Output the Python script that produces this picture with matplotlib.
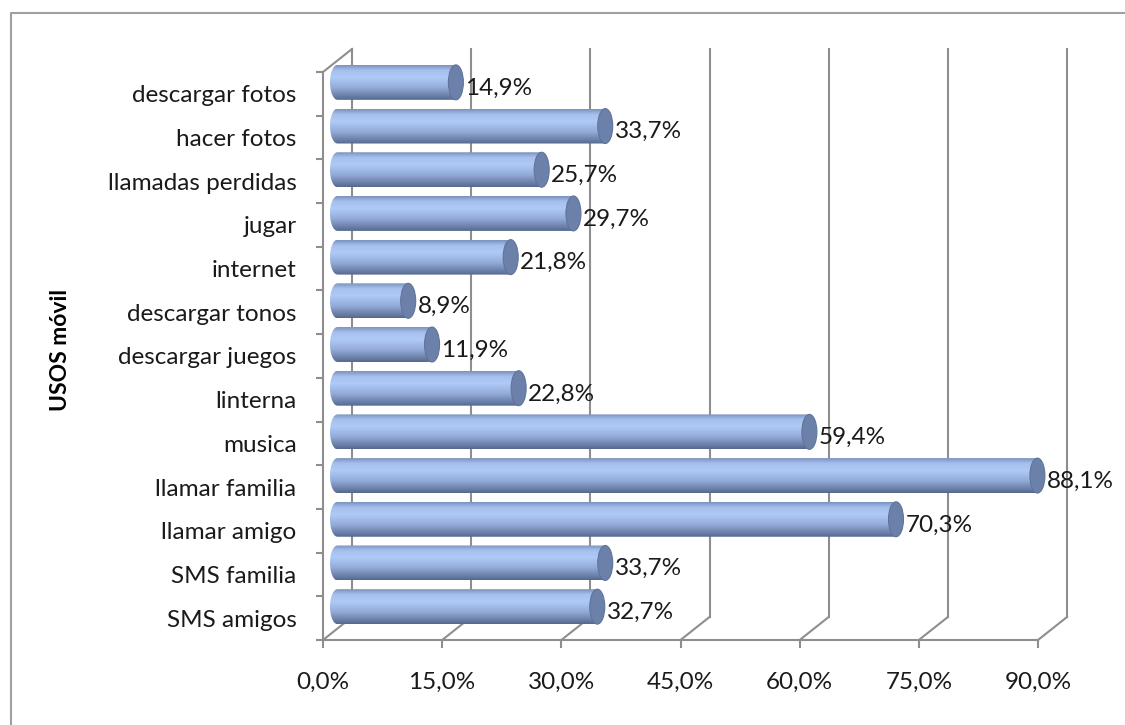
import matplotlib
matplotlib.use('Agg')
import matplotlib.pyplot as plt
import numpy as np
from matplotlib.patches import Ellipse, PathPatch
from matplotlib.path import Path
from matplotlib.colors import LinearSegmentedColormap
from matplotlib.lines import Line2D

categorias = ['SMS amigos', 'SMS familia', 'llamar amigo', 'llamar familia', 'musica',
              'linterna', 'descargar juegos', 'descargar tonos', 'internet', 'jugar',
              'llamadas perdidas', 'hacer fotos', 'descargar fotos']
valores = [32.7, 33.7, 70.3, 88.1, 59.4, 22.8, 11.9, 8.9, 21.8, 29.7, 25.7, 33.7, 14.9]
ticks_x = [0, 15, 30, 45, 60, 75, 90]

plt.rcParams['font.family'] = ['Lato', 'DejaVu Sans']

fig = plt.figure(figsize=(11.25, 7.25), dpi=100)
ax = fig.add_axes([323 / 1125, 85 / 725, 715 / 1125, 568 / 725])

# profundidad del efecto 3D (en unidades de datos)
dx = 29 / (715 / 90)
dy = 23 / (568 / 13)
gris = '#8e8e8e'
lw = 1.5

n = len(categorias)
y0, y1 = -0.5, n - 0.5

# paredes y rejilla
for t in ticks_x:
    ax.plot([t, t + dx], [y0, y0 + dy], color=gris, lw=lw, zorder=1, clip_on=False)
    ax.plot([t + dx, t + dx], [y0 + dy, y1 + dy], color=gris, lw=lw, zorder=1, clip_on=False)
ax.plot([0, 0], [y0, y1], color=gris, lw=lw, zorder=1, clip_on=False)
ax.plot([0, dx], [y1, y1 + dy], color=gris, lw=lw, zorder=1, clip_on=False)
ax.plot([0, 90], [y0, y0], color=gris, lw=lw, zorder=1, clip_on=False)

cmap = LinearSegmentedColormap.from_list('cil', [
    (0.0, '#7b92bd'), (0.15, '#a6c0ee'), (0.35, '#b0caf8'),
    (0.65, '#93abd8'), (0.88, '#6b80a9'), (1.0, '#55678e')])
grad = np.linspace(0, 1, 200).reshape(-1, 1)

h = 0.8
ew = 15 / (715 / 90)
for i, v in enumerate(valores):
    yc = i + dy / 2
    xs = dx / 2
    xe = xs + v
    # cuerpo con borde izquierdo redondeado
    theta = np.linspace(np.pi / 2, 3 * np.pi / 2, 30)
    left = np.column_stack([xs + ew / 2 * np.cos(theta), yc + h / 2 * np.sin(theta)])
    verts = np.vstack([[xe, yc + h / 2], left, [xe, yc - h / 2], [xe, yc + h / 2]])
    patch = PathPatch(Path(verts), facecolor='none', edgecolor='none', transform=ax.transData)
    ax.add_patch(patch)
    im = ax.imshow(grad, cmap=cmap, aspect='auto', extent=[xs - ew, xe, yc - h / 2, yc + h / 2],
                   origin='upper', zorder=3, interpolation='bilinear')
    im.set_clip_box(fig.bbox)
    im.set_clip_path(patch)
    ax.add_patch(Ellipse((xe, yc), ew, h, facecolor='#6c81aa', edgecolor='#60749b',
                         lw=0.8, zorder=4, clip_on=False))
    ax.text(xe + ew / 2 + 0.25, yc - 0.13, f'{v:.1f}%'.replace('.', ','),
            ha='left', va='center', fontsize=17.5, color='#1a1a1a', zorder=5)

ax.set_xlim(0, 90)
ax.set_ylim(y0, y1)
for s in ax.spines.values():
    s.set_visible(False)

ax.set_xticks(ticks_x)
ax.set_xticklabels([f'{t:.1f}%'.replace('.', ',') for t in ticks_x], fontsize=17.5)
ax.tick_params(axis='x', length=6, width=lw, color=gris, pad=17, labelcolor='#1a1a1a')

ax.set_yticks(range(n))
ax.set_yticklabels(categorias, fontsize=17.5)
ax.set_yticks(np.arange(-0.5, n, 1), minor=True)
ax.tick_params(axis='y', which='major', length=0, pad=19, labelcolor='#1a1a1a')
ax.tick_params(axis='y', which='minor', length=5, width=lw, color=gris)

ax.set_ylabel('USOS móvil', fontsize=16.5, fontweight='bold')
ax.yaxis.set_label_coords(-0.3524, 0.5106)

# borde del área del gráfico
fig.add_artist(Line2D([11 / 1125, 11 / 1125, 1.0], [0.0, 1 - 13 / 725, 1 - 13 / 725],
                      color='#a0a0a0', lw=1.5, transform=fig.transFigure))

fig.savefig('out.png', dpi=100)
